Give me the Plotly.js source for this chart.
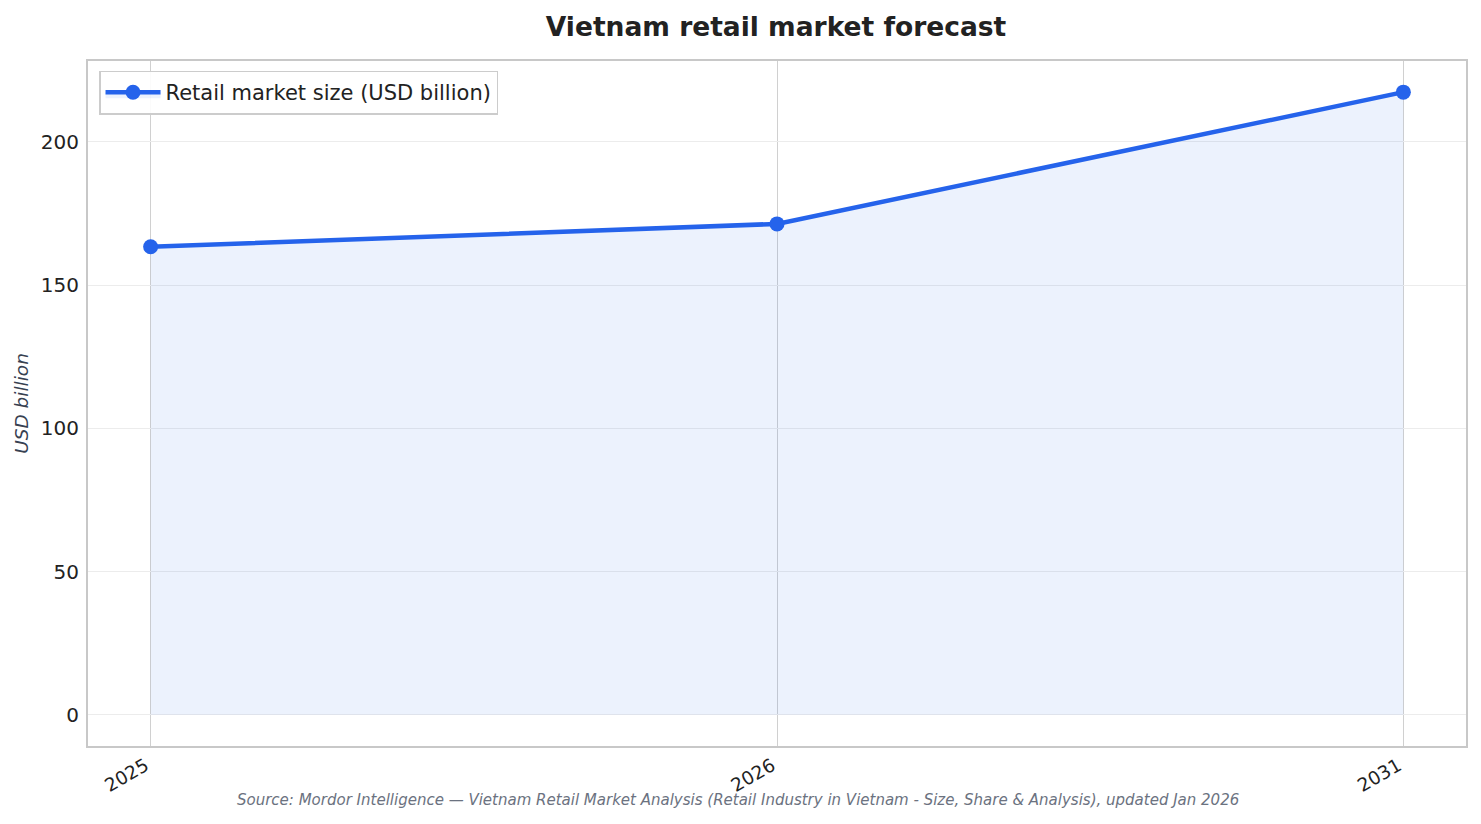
<!DOCTYPE html>
<html>
<head>
<meta charset="utf-8">
<script src="https://cdn.plot.ly/plotly-3.0.1.min.js"></script>
<style>
  html, body { margin: 0; padding: 0; background: #fff; }
  #chart { width: 1481px; height: 824px; }
</style>
</head>
<body>
<div id="chart"></div>
<script>
var years = ['2025', '2026', '2031'];
var marketSize = [163.4, 171.4, 217.4];
var seriesName = 'Retail market size (USD billion)';
var sourceText = 'Source: Mordor Intelligence — Vietnam Retail Market Analysis (Retail Industry in Vietnam - Size, Share & Analysis), updated Jan 2026';

var trace = {
  x: years,
  y: marketSize,
  type: 'scatter',
  mode: 'lines+markers',
  name: seriesName,
  fill: 'tozeroy',
  fillcolor: 'rgba(37,99,235,0.085)',
  line: { color: '#2563eb', width: 4.5 },
  marker: { color: '#2563eb', size: 15 }
};

var layout = {
  width: 1481,
  height: 824,
  margin: { l: 88, r: 15, t: 61, b: 78 },
  paper_bgcolor: '#ffffff',
  plot_bgcolor: '#ffffff',
  font: { family: 'DejaVu Sans, sans-serif', size: 19, color: '#222' },
  title: {
    text: '<b>Vietnam retail market forecast</b>',
    font: { size: 26.5, color: '#222' },
    x: 0.524, xanchor: 'center', y: 0.968, yanchor: 'middle'
  },
  xaxis: {
    type: 'category',
    range: [-0.1, 2.1],
    tickangle: -30,
    showgrid: true, gridcolor: '#d0d0d0', gridwidth: 1,
    showline: true, linecolor: '#c8c8c8', linewidth: 2, mirror: true,
    ticks: '',
    ticklabelshift: -5,
    ticklabelstandoff: 0,
    zeroline: false,
    tickfont: { size: 18.5, color: '#222' }
  },
  yaxis: {
    range: [-10.87, 228.27],
    tickvals: [0, 50, 100, 150, 200],
    showgrid: true, gridcolor: '#ececec', gridwidth: 1,
    showline: true, linecolor: '#c8c8c8', linewidth: 2, mirror: true,
    ticks: 'outside', ticklen: 3, tickcolor: '#ffffff',
    zeroline: false,
    tickfont: { size: 20, color: '#222' },
    title: { text: '<i>USD billion</i>', font: { size: 18.5, color: '#374151' }, standoff: 7 }
  },
  showlegend: true,
  legend: {
    x: 0.008, y: 0.986, xanchor: 'left', yanchor: 'top',
    bgcolor: 'rgba(255,255,255,0.9)',
    bordercolor: '#cccccc', borderwidth: 1.5,
    itemwidth: 55,
    font: { size: 21, color: '#222' }
  },
  annotations: [{
    text: '<i>' + sourceText + '</i>',
    xref: 'paper', yref: 'paper',
    x: 0.472, y: 0, yshift: -54,
    xanchor: 'center', yanchor: 'middle',
    showarrow: false,
    font: { size: 15, color: '#6b7280' }
  }]
};

Plotly.newPlot('chart', [trace], layout, { displayModeBar: false });
</script>
</body>
</html>
